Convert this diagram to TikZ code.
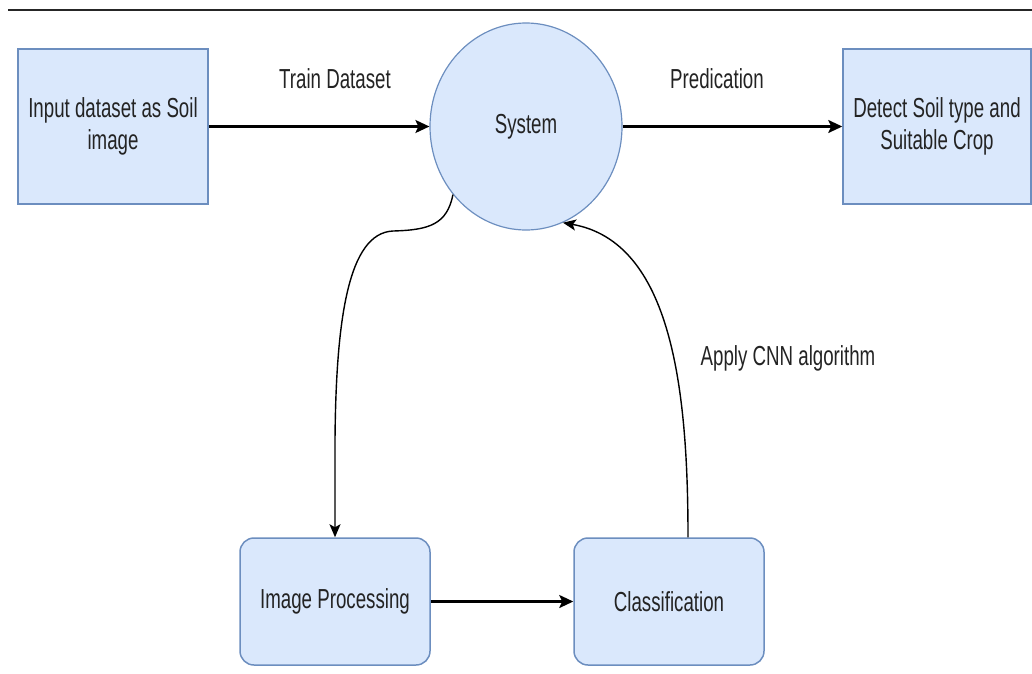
\documentclass[tikz,border=0pt]{standalone}
\usepackage{fontspec}
\setmainfont{Liberation Sans}[FakeStretch=0.68]
\usepackage{xcolor}
\usepackage{tikz}
\usetikzlibrary{shapes.geometric, arrows.meta, positioning}
\definecolor{soilfill}{RGB}{218, 232, 252}
\definecolor{soiledge}{RGB}{108, 142, 191}
\definecolor{inkgray}{RGB}{35, 35, 35}

\begin{document}
\begin{tikzpicture}[
  x=1pt, y=-1pt,
  every node/.style={font=\fontsize{27.5}{32}\selectfont, text=inkgray},
  soilbox/.style={rectangle, draw=soiledge, fill=soilfill, line width=1.5pt,
                  minimum width=190pt, minimum height=155pt, align=center, inner sep=0pt},
  roundbox/.style={soilbox, rounded corners=14pt, minimum height=127pt},
  sysnode/.style={ellipse, draw=soiledge, fill=soilfill, line width=1.2pt,
                  minimum width=192pt, minimum height=207pt, inner sep=0pt},
  arrow/.style={-{Stealth[length=14pt, width=13pt, inset=3pt]}, line width=2.2pt, color=black},
  curvearrow/.style={-{Stealth[length=13pt, width=11pt, inset=3pt]}, line width=1.4pt, color=black},
  lbl/.style={inner sep=0pt}
]
\useasboundingbox (0,0) rectangle (1032,673);

% rule along the top
\draw[line width=1.4pt, black!85] (8,10) -- (1032,10);

\node[soilbox] (inp) at (113,126.5) {Input dataset as Soil\\image};
\node[sysnode] (sys) at (526,126.5) {System};
\node[soilbox, minimum width=188pt] (det) at (937,126.5) {Detect Soil type and\\Suitable Crop};
\node[roundbox] (ip) at (335,601.5) {Image Processing};
\node[roundbox] (cls) at (669,601.5) {Classification};

\node[lbl] (trainlbl) at (335,79) {Train Dataset};
\node[lbl] (predlbl) at (717,79) {Predication};
\node[lbl] (cnnlbl) at (788,358) {Apply CNN algorithm};

\draw[arrow] (inp.east) -- (sys.west);
\draw[arrow] (sys.east) -- (det.west);
\draw[arrow] (ip.east) -- (cls.west);

\draw[curvearrow] (sys.223) .. controls (447,224) and (430,230) .. (393,231)
  .. controls (348,233) and (336,320) .. (335,440) -- (ip.north);
\draw[curvearrow] ([xshift=19pt]cls.north) .. controls (688,390) and (672,242) .. (sys.291);

\end{tikzpicture}
\end{document}
